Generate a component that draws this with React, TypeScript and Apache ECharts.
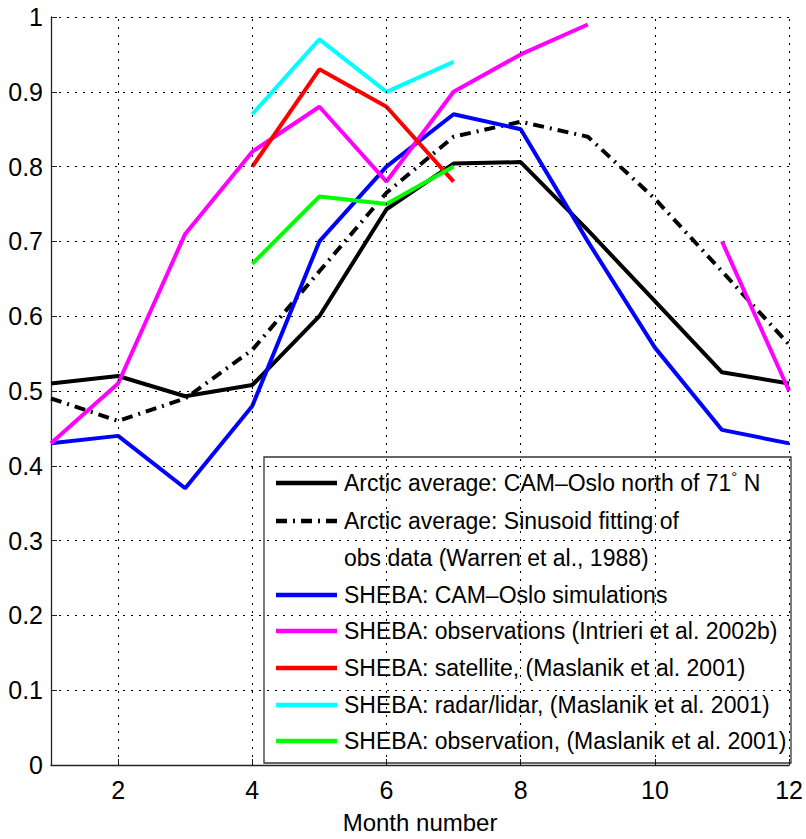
import React, { useEffect, useRef } from "react";
import * as echarts from "echarts";

const months = [1, 2, 3, 4, 5, 6, 7, 8, 9, 10, 11, 12];
const sparseMonths = [4, 5, 6, 7];
const xTicks = [2, 4, 6, 8, 10, 12];

const arcticCamOslo = [0.51, 0.52, 0.493, 0.508, 0.6, 0.743, 0.804, 0.806, 0.715, 0.62, 0.525, 0.51];
const arcticSinusoid = [0.49, 0.46, 0.49, 0.555, 0.66, 0.765, 0.84, 0.86, 0.84, 0.757, 0.66, 0.562];
const shebaCamOslo = [0.43, 0.44, 0.37, 0.48, 0.7, 0.8, 0.87, 0.85, 0.7, 0.558, 0.448, 0.43];
const shebaObsIntrieri = [0.43, 0.51, 0.71, 0.82, 0.88, 0.78, 0.9, 0.95, 0.99, null, 0.7, 0.5];
const shebaSatellite = [0.8, 0.93, 0.88, 0.78];
const shebaRadarLidar = [0.87, 0.97, 0.9, 0.94];
const shebaObsMaslanik = [0.67, 0.76, 0.75, 0.8];

const legendLabels = [
  "Arctic average: CAM\u2013Oslo north of 71",
  "Arctic average: Sinusoid fitting of",
  "obs data (Warren et al., 1988)",
  "SHEBA: CAM\u2013Oslo simulations",
  "SHEBA: observations (Intrieri et al. 2002b)",
  "SHEBA: satellite, (Maslanik et al. 2001)",
  "SHEBA: radar/lidar, (Maslanik et al. 2001)",
  "SHEBA: observation, (Maslanik et al. 2001)",
];

const FONT = "'Liberation Sans', Arial, Helvetica, sans-serif";
const DASHDOT = [11, 6, 2, 6];

function pairs(xs: number[], ys: (number | null)[]) {
  return xs.map((x, i) => [x, ys[i] === null ? "-" : ys[i]]);
}

export default function App() {
  const ref = useRef<HTMLDivElement>(null);
  useEffect(() => {
    if (!ref.current) return;
    const chart = echarts.init(ref.current, null, { renderer: "svg" });

    const lineSeries = (name: string, xs: number[], ys: (number | null)[], color: string, type: any = "solid", z = 3) => ({
      name,
      type: "line",
      data: pairs(xs, ys),
      showSymbol: false,
      symbol: "none",
      connectNulls: false,
      z,
      lineStyle: { color, width: 4, type },
      itemStyle: { color },
    });

    const lgX = 264, lgY = 457, lgW = 527, lgH = 306;
    const sx1 = 276, sx2 = 337, tx = 344;
    const rowsY = [483, 521, 558, 595, 631, 668, 705, 741];
    const rowColors: (string | null)[] = ["#000000", "#000000", null, "#0000ff", "#ff00ff", "#ff0000", "#00ffff", "#00ff00"];
    const legendChildren: any[] = [
      { type: "rect", shape: { x: lgX, y: lgY, width: lgW, height: lgH }, style: { fill: "#fff", stroke: "#333", lineWidth: 1.3 } },
    ];
    rowsY.forEach((y, i) => {
      const c = rowColors[i];
      if (c) {
        legendChildren.push({
          type: "line",
          shape: { x1: sx1, y1: y, x2: sx2, y2: y },
          style: { stroke: c, lineWidth: 4.5, lineDash: i === 1 ? DASHDOT : null },
        });
      }
      if (i === 0) {
        legendChildren.push({
          type: "text",
          x: tx,
          y,
          style: {
            text: "{a|" + legendLabels[i] + "}{s|\u00b0}{a| N}",
            verticalAlign: "middle",
            rich: {
              a: { fontSize: 23, fontFamily: FONT, fill: "#000" },
              s: { fontSize: 15, fontFamily: FONT, fill: "#000", verticalAlign: "top", padding: [0, 0, 14, 0] },
            },
          },
        });
      } else {
        legendChildren.push({
          type: "text",
          x: tx,
          y,
          style: { text: legendLabels[i], fontSize: 23, fontFamily: FONT, fill: "#000", verticalAlign: "middle" },
        });
      }
    });

    const option: any = {
      animation: false,
      backgroundColor: "#fff",
      grid: { left: 51, right: 13, top: 17, bottom: 69, containLabel: false },
      xAxis: {
        type: "value",
        min: 1,
        max: 12,
        name: "Month number",
        nameLocation: "middle",
        nameGap: 45,
        nameTextStyle: { fontSize: 24, fontFamily: FONT, color: "#000" },
        axisLine: { show: true, onZero: false, lineStyle: { color: "#222", width: 1.3 } },
        axisTick: { show: true, inside: true, length: 6, customValues: xTicks, lineStyle: { color: "#222" } },
        axisLabel: { customValues: xTicks, fontSize: 25, fontFamily: FONT, color: "#000", margin: 12 },
        splitLine: { show: false },
      },
      yAxis: {
        type: "value",
        min: 0,
        max: 1,
        interval: 0.1,
        axisLine: { show: true, lineStyle: { color: "#222", width: 1.3 } },
        axisTick: { show: true, inside: true, length: 6, lineStyle: { color: "#222" } },
        axisLabel: { fontSize: 25, fontFamily: FONT, color: "#000", margin: 8 },
        splitLine: { show: true, lineStyle: { color: "#000", width: 1, type: [2, 6] } },
      },
      series: [
        {
          name: "grid",
          type: "line",
          data: [],
          z: 1,
          silent: true,
          markLine: {
            silent: true,
            symbol: "none",
            label: { show: false },
            lineStyle: { color: "#000", width: 1, type: [2, 6] },
            data: xTicks.map((v) => ({ xAxis: v })),
          },
        },
        lineSeries("Arctic average: CAM–Oslo north of 71° N", months, arcticCamOslo, "#000000"),
        lineSeries("Arctic average: Sinusoid fitting of obs data (Warren et al., 1988)", months, arcticSinusoid, "#000000", DASHDOT),
        lineSeries("SHEBA: CAM–Oslo simulations", months, shebaCamOslo, "#0000ff"),
        lineSeries("SHEBA: observations (Intrieri et al. 2002b)", months, shebaObsIntrieri, "#ff00ff"),
        lineSeries("SHEBA: satellite, (Maslanik et al. 2001)", sparseMonths, shebaSatellite, "#ff0000"),
        lineSeries("SHEBA: radar/lidar, (Maslanik et al. 2001)", sparseMonths, shebaRadarLidar, "#00ffff"),
        lineSeries("SHEBA: observation, (Maslanik et al. 2001)", sparseMonths, shebaObsMaslanik, "#00ff00"),
      ],
      graphic: [{ type: "group", z: 100, children: legendChildren }],
    };
    chart.setOption(option);
    return () => chart.dispose();
  }, []);
  return <div ref={ref} style={{ width: 806, height: 839, position: "absolute", left: 0, top: 0 }} />;
}
